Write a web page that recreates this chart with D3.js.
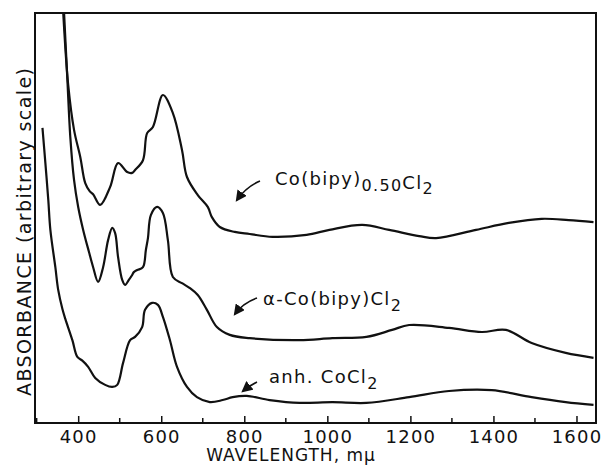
<!DOCTYPE html>
<html>
<head>
<meta charset="utf-8">
<script src="https://cdn.jsdelivr.net/npm/d3@7"></script>
<style>
  body { margin: 0; background: #fff; }
  svg { display: block; font-family: "DejaVu Sans", sans-serif; }
  .curve { fill: none; stroke: #111; stroke-width: 2.2; stroke-linejoin: round; }
  .lbl { fill: #111; }
</style>
</head>
<body>
<div id="visualization"></div>
<script>
// wavelength (mμ) and absorbance (arbitrary scale, 0-100)

// Co(bipy)0.50Cl2 - top trace
const bipy050 = [
  [364, 100], [376, 82.4], [390, 71.5], [405, 64.9], [417, 58.5], [428, 56.5],
  [436, 55.8], [453, 53.2], [477, 57.6], [496, 63.4], [518, 61.2], [530, 61.0],
  [537, 61.7], [556, 64.1], [566, 70.7], [580, 72.2], [604, 80.0], [628, 75.6],
  [650, 66.6], [662, 60.0], [688, 55.6], [712, 52.7], [722, 50.2], [741, 47.8],
  [777, 46.6], [813, 46.1], [868, 45.4], [950, 45.9], [1005, 47.1], [1084, 48.3],
  [1149, 47.1], [1221, 45.6], [1262, 45.1], [1358, 47.1], [1437, 48.8],
  [1516, 49.8], [1581, 49.5], [1641, 49.0]
];

// α-Co(bipy)Cl2 - middle trace
const alphaBipy = [
  [366, 100], [374, 83.7], [381, 69.8], [390, 59.3], [400, 52.7], [412, 47.1],
  [426, 41.7], [436, 38.0], [448, 34.4], [460, 38.0], [472, 44.6], [482, 47.6],
  [489, 46.3], [496, 40.5], [506, 34.9], [513, 33.7], [522, 34.9], [530, 36.1],
  [534, 36.8], [542, 37.3], [556, 38.0], [563, 42.2], [568, 45.1], [575, 50.7],
  [590, 52.7], [604, 51.2], [616, 44.6], [628, 35.6], [650, 34.1], [669, 32.9],
  [688, 31.2], [710, 27.6], [734, 23.4], [765, 21.5], [813, 20.7], [933, 20.2],
  [1012, 20.7], [1094, 21.0], [1156, 22.7], [1197, 23.9], [1293, 23.2],
  [1372, 22.2], [1430, 22.7], [1492, 19.5], [1574, 17.1], [1641, 15.9]
];

// anh. CoCl2 - bottom trace
const anhCoCl2 = [
  [314, 72.0], [321, 63.4], [328, 54.4], [333, 47.1], [345, 38.0], [352, 32.4],
  [362, 27.8], [369, 25.4], [386, 20.2], [398, 16.1], [410, 15.2],
  [424, 13.7], [441, 11.0], [465, 9.3], [482, 8.8], [494, 9.3], [508, 14.6],
  [525, 20.2], [537, 21.0], [554, 23.4], [561, 27.6], [578, 29.3], [592, 28.8],
  [604, 25.9], [621, 20.2], [638, 13.7], [662, 8.8], [686, 6.3], [717, 5.1],
  [748, 5.6], [772, 6.3], [806, 6.6], [861, 5.6], [933, 4.9], [1012, 5.1],
  [1094, 4.9], [1197, 6.3], [1293, 7.8], [1396, 8.0], [1492, 6.3], [1574, 5.1],
  [1641, 4.4]
];

const majorTicks = [400, 600, 800, 1000, 1200, 1400, 1600];
const minorTicks = [300, 500, 700, 900, 1100, 1300, 1500];

const width = 601, height = 466;
const plotLeft = 35, plotRight = 596, plotTop = 13, plotBottom = 423;

const svg = d3.select('#visualization')
  .append('svg')
  .attr('id', 'canvas')
  .attr('width', width)
  .attr('height', height);

const x = d3.scaleLinear().domain([296, 1647]).range([plotLeft, plotRight]);
const y = d3.scaleLinear().domain([0, 100]).range([plotBottom, plotTop]);

const defs = svg.append('defs');
defs.append('clipPath').attr('id', 'plot-clip')
  .append('rect')
  .attr('x', plotLeft).attr('y', plotTop)
  .attr('width', plotRight - plotLeft).attr('height', plotBottom - plotTop);

defs.append('marker')
  .attr('id', 'head')
  .attr('viewBox', '0 0 10 10')
  .attr('refX', 8).attr('refY', 5)
  .attr('markerWidth', 7).attr('markerHeight', 7)
  .attr('orient', 'auto')
  .append('path')
  .attr('d', 'M0,0 L10,5 L0,10 Z')
  .attr('fill', '#111');

// frame
svg.append('rect')
  .attr('x', plotLeft).attr('y', plotTop)
  .attr('width', plotRight - plotLeft).attr('height', plotBottom - plotTop)
  .attr('fill', 'none')
  .attr('stroke', '#111')
  .attr('stroke-width', 2);

// ticks point inward from the bottom edge
const xAxis = d3.axisBottom(x)
  .tickValues(majorTicks)
  .tickSizeInner(-7)
  .tickSizeOuter(0)
  .tickPadding(7)
  .tickFormat(d3.format('d'));

const gx = svg.append('g')
  .attr('transform', `translate(0,${plotBottom})`)
  .call(xAxis);
gx.select('.domain').remove();
gx.selectAll('line').attr('stroke', '#111').attr('stroke-width', 1.5);
gx.selectAll('text')
  .attr('font-size', 18)
  .attr('font-family', '"DejaVu Sans", sans-serif')
  .attr('fill', '#111')
  .attr('letter-spacing', 1.2);

svg.append('g')
  .selectAll('line')
  .data(minorTicks.filter(d => x(d) > plotLeft))
  .join('line')
  .attr('x1', d => x(d)).attr('x2', d => x(d))
  .attr('y1', plotBottom).attr('y2', plotBottom - 5)
  .attr('stroke', '#111').attr('stroke-width', 1.5);

// spectra
const line = d3.line()
  .x(d => x(d[0]))
  .y(d => y(d[1]))
  .curve(d3.curveCatmullRom.alpha(0.5));

svg.append('g')
  .attr('clip-path', 'url(#plot-clip)')
  .selectAll('path')
  .data([bipy050, alphaBipy, anhCoCl2])
  .join('path')
  .attr('class', 'curve')
  .attr('d', line);

// curve labels with little arrows
function label(px, py, parts) {
  const t = svg.append('text')
    .attr('class', 'lbl')
    .attr('x', px).attr('y', py)
    .attr('font-size', 18)
    .attr('letter-spacing', 1.3);
  parts.forEach(p => {
    t.append('tspan')
      .attr('dy', p.dy || 0)
      .attr('font-size', p.size || 18)
      .text(p.text);
  });
}

function arrow(d) {
  svg.append('path')
    .attr('d', d)
    .attr('fill', 'none')
    .attr('stroke', '#111')
    .attr('stroke-width', 1.6)
    .attr('marker-end', 'url(#head)');
}

label(275, 185, [
  { text: 'Co(bipy)' },
  { text: '0.50', dy: 6, size: 16 },
  { text: 'Cl', dy: -2 },
  { text: '2', dy: 5, size: 16 }
]);
arrow('M260,181 Q246,187 237,200');

label(263, 305, [
  { text: 'α-Co(bipy)Cl' },
  { text: '2', dy: 6, size: 16 }
]);
arrow('M257,298 Q243,303 235,314');

label(269, 383, [
  { text: 'anh. CoCl' },
  { text: '2', dy: 6, size: 16 }
]);
arrow('M257,382 Q249,386 243,391');

// axis titles
svg.append('text')
  .attr('x', 291).attr('y', 461)
  .attr('text-anchor', 'middle')
  .attr('font-size', 17)
  .attr('letter-spacing', 1)
  .attr('fill', '#111')
  .text('WAVELENGTH, mμ');

svg.append('text')
  .attr('transform', 'translate(31,232) rotate(-90)')
  .attr('text-anchor', 'middle')
  .attr('font-size', 19)
  .attr('fill', '#111')
  .attr('textLength', 328)
  .attr('lengthAdjust', 'spacing')
  .text('ABSORBANCE (arbitrary scale)');
</script>
</body>
</html>
